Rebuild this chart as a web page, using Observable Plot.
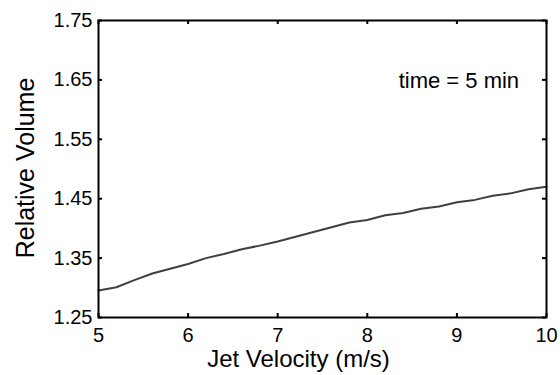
<!DOCTYPE html>
<html>
<head>
<meta charset="utf-8">
<script src="https://cdn.jsdelivr.net/npm/d3@7"></script>
<script src="https://cdn.jsdelivr.net/npm/@observablehq/plot@0.6"></script>
<style>
  html, body { margin: 0; padding: 0; background: #fff; }
  #chart svg { display: block; }
</style>
</head>
<body>
<div id="chart"></div>
<script>
const velocity = [5.0, 5.2, 5.4, 5.6, 5.8, 6.0, 6.2, 6.4, 6.6, 6.8, 7.0, 7.2, 7.4, 7.6, 7.8, 8.0, 8.2, 8.4, 8.6, 8.8, 9.0, 9.2, 9.4, 9.6, 9.8, 10.0];
const relVolume = [1.2955, 1.301, 1.313, 1.324, 1.332, 1.340, 1.350, 1.357, 1.365, 1.371, 1.378, 1.386, 1.394, 1.402, 1.410, 1.414, 1.422, 1.426, 1.433, 1.437, 1.444, 1.448, 1.455, 1.459, 1.466, 1.470];
const xTicks = [5, 6, 7, 8, 9, 10];
const yTicks = [1.25, 1.35, 1.45, 1.55, 1.65, 1.75];
const xTitle = "Jet Velocity (m/s)";
const yTitle = "Relative Volume";
const annotation = ["time = 5 min"];
const annotationPos = {x: 8.35, y: 1.637};

const data = velocity.map((v, i) => ({v, r: relVolume[i]}));

const W = 560, H = 375, ML = 98, MR = 14, MT = 20, MB = 58, TICK = 4;
const FW = W - ML - MR, FH = H - MT - MB;

const chart = Plot.plot({
  width: W,
  height: H,
  marginLeft: ML,
  marginRight: MR,
  marginTop: MT,
  marginBottom: MB,
  style: {fontFamily: "'Liberation Sans', Arial, sans-serif", background: "#fff", color: "#000"},
  x: {domain: [5, 10]},
  y: {domain: [1.25, 1.75]},
  marks: [
    Plot.line(data, {x: "v", y: "r", stroke: "#404040", strokeWidth: 2}),
    // inward ticks on all four sides
    Plot.ruleX(xTicks, {x: d => d, insetTop: FH - TICK, stroke: "#000", strokeWidth: 2}),
    Plot.ruleX(xTicks, {x: d => d, insetBottom: FH - TICK, stroke: "#000", strokeWidth: 2}),
    Plot.ruleY(yTicks, {y: d => d, insetRight: FW - TICK, stroke: "#000", strokeWidth: 2}),
    Plot.ruleY(yTicks, {y: d => d, insetLeft: FW - TICK, stroke: "#000", strokeWidth: 2}),
    Plot.axisX({anchor: "bottom", ticks: xTicks, tickSize: 0, tickPadding: 10, tickFormat: d3.format("d"), fontSize: 20, label: null}),
    Plot.axisY({anchor: "left", ticks: yTicks, tickSize: 0, tickPadding: 6, tickFormat: d3.format(".2f"), fontSize: 20, label: null}),
    Plot.frame({stroke: "#000", strokeWidth: 2}),
    Plot.text(annotation, {x: annotationPos.x, y: annotationPos.y, text: d => d, textAnchor: "start", lineAnchor: "bottom", fontSize: 22, fill: "#000"}),
    Plot.text([xTitle], {frameAnchor: "bottom", text: d => d, textAnchor: "middle", dx: -24, dy: 49, lineAnchor: "bottom", fontSize: 24, fill: "#000"}),
    Plot.text([yTitle], {frameAnchor: "left", text: d => d, textAnchor: "middle", rotate: -90, dx: -65, dy: -1, lineAnchor: "bottom", fontSize: 25, fill: "#000"})
  ]
});
document.getElementById("chart").appendChild(chart);
</script>
</body>
</html>
